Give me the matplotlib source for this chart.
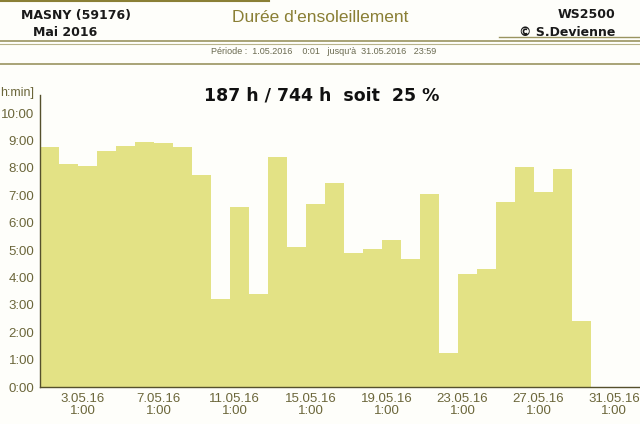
import numpy as np
import matplotlib.pyplot as plt

# durée d'ensoleillement par jour (heures), mai 2016
days = list(range(1, 32))
sun_hours = [8.75, 8.15, 8.07, 8.62, 8.81, 8.94, 8.89, 8.75, 7.73, 3.21,
             6.57, 3.41, 8.39, 5.11, 6.69, 7.46, 4.88, 5.04, 5.35, 4.66,
             7.03, 1.23, 4.11, 4.29, 6.74, 8.04, 7.12, 7.96, 2.41, 0.0, 0.0]
tick_days = [3, 7, 11, 15, 19, 23, 27, 31]
tick_labels = ["%d.05.16\n1:00" % d for d in tick_days]
y_ticks = list(range(0, 11))
y_labels = ["%d:00" % h for h in y_ticks]

bar_col = '#e3e285'
txt_col = '#6b663a'
axis_col = '#55502c'
olive = '#8a7f35'

fig = plt.figure(figsize=(6.4, 4.24), dpi=100)
fig.patch.set_facecolor('#fefefa')

ax = fig.add_axes([40/640, 37/424, 600/640, 292/424])
ax.set_facecolor('#fefefa')
x = np.array(days) - 1
ax.bar(x, sun_hours, width=1.0, align='edge', color=bar_col, edgecolor='none')

ax.set_xlim(0, 31.6)
ax.set_ylim(0, 10.66)
ax.set_yticks(y_ticks)
ax.set_yticklabels(y_labels)
ax.set_xticks([d - 1 + 0.25 for d in tick_days])
ax.set_xticklabels(tick_labels, linespacing=1.1)
ax.tick_params(length=0, labelsize=9.5, colors=txt_col, pad=4)
for lab in ax.get_xticklabels() + ax.get_yticklabels():
    lab.set_family('Liberation Sans')
for s in ['top', 'right']:
    ax.spines[s].set_visible(False)
for s in ['left', 'bottom']:
    ax.spines[s].set_color(axis_col)
    ax.spines[s].set_linewidth(1.0)

# en-tete
fig.text(21/640, 1 - 16/424, "MASNY (59176)", fontsize=9, fontweight='bold',
         color='#1a1a1a', va='center', ha='left')
fig.text(33/640, 1 - 32/424, "Mai 2016", fontsize=9, fontweight='bold',
         color='#1a1a1a', va='center', ha='left')
fig.text(0.5, 1 - 18/424, "Durée d'ensoleillement", fontsize=12.5, color=olive,
         family='Liberation Sans', va='center', ha='center')
fig.text(615/640, 1 - 15/424, "WS2500", fontsize=9, fontweight='bold',
         color='#1a1a1a', va='center', ha='right')
fig.text(615/640, 1 - 32/424, "© S.Devienne", fontsize=9, fontweight='bold',
         color='#1a1a1a', va='center', ha='right')
fig.text(324/640, 1 - 52/424, "Période :  1.05.2016    0:01   jusqu'à  31.05.2016   23:59",
         fontsize=6.5, color='#6a6a50', family='Liberation Sans', va='center', ha='center')
fig.text(322/640, 1 - 96/424, "187 h / 744 h  soit  25 %", fontsize=12.5, fontweight='bold',
         color='#111111', va='center', ha='center')
fig.text(0, 1 - 93/424, "h:min]", fontsize=9, color=txt_col,
         family='Liberation Sans', va='center', ha='left')

# filets
for yy, lw, c, x0 in [(37, 1.0, '#9a9460', 0.78), (41, 1.2, '#9a9460', 0.0),
                      (44, 0.8, '#b8b48a', 0.0), (64, 1.2, '#9a9460', 0.0)]:
    fig.add_artist(plt.Line2D([x0, 1], [1 - yy/424, 1 - yy/424], color=c, lw=lw))
fig.add_artist(plt.Line2D([0, 0.42], [1 - 1/424, 1 - 1/424], color=olive, lw=1.5))

fig.savefig('out.png', dpi=100, facecolor=fig.get_facecolor())
